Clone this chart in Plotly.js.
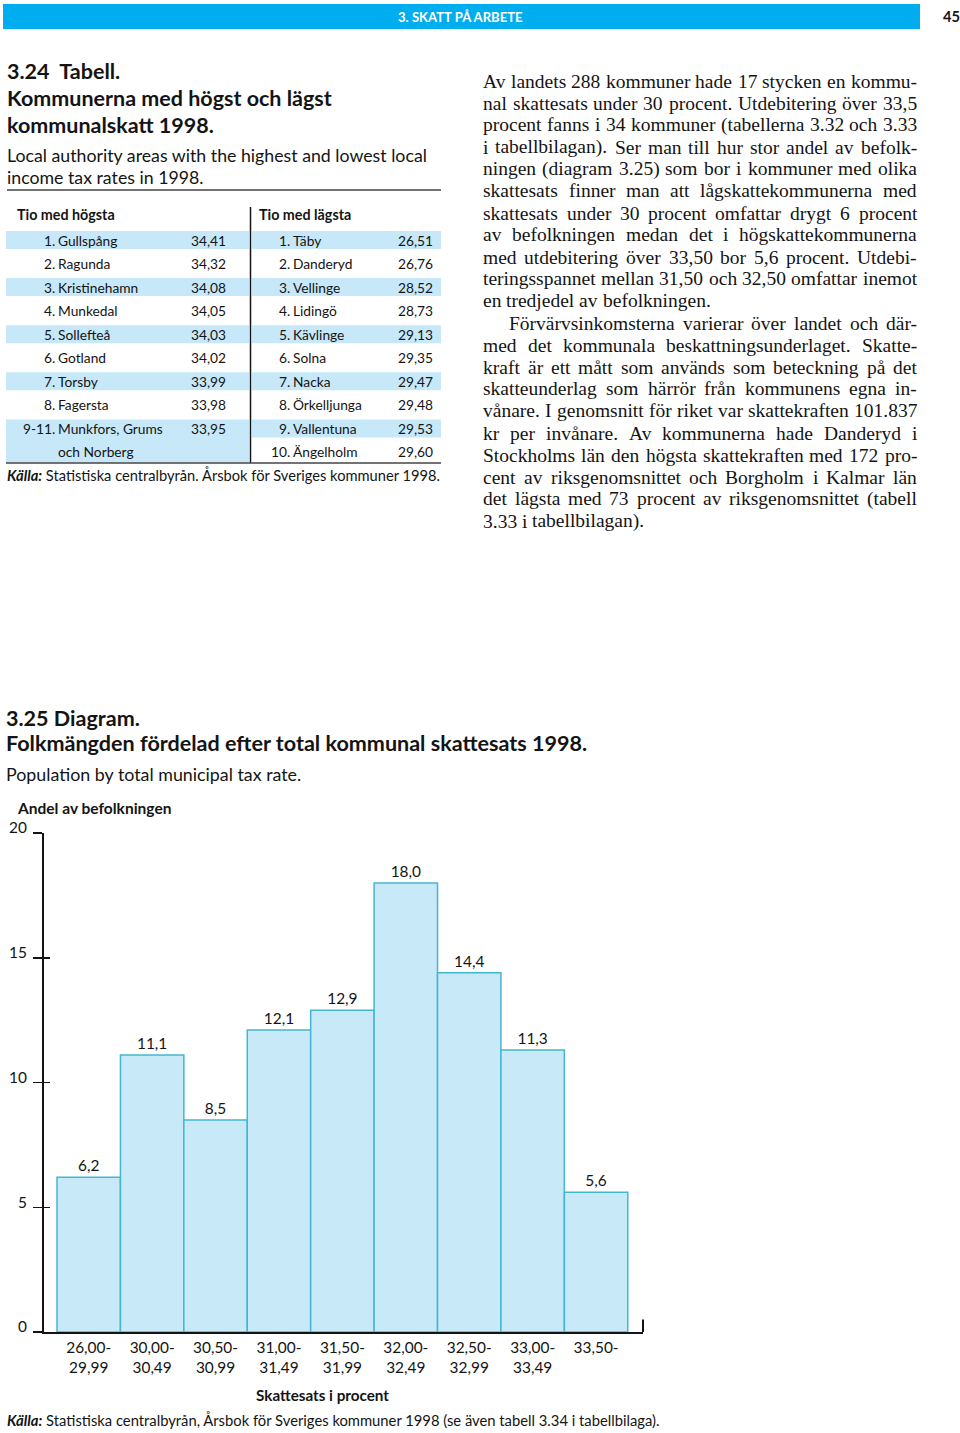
<!DOCTYPE html>
<html><head><meta charset="utf-8">
<script src="https://cdn.plot.ly/plotly-3.0.1.min.js"></script>
<style>html,body{margin:0;padding:0;background:#fff}</style>
</head><body><div id="chart" style="width:960px;height:1433px"></div>
<script>
// ---------- DATA ----------
const taxBrackets = ["26,00-<br>29,99","30,00-<br>30,49","30,50-<br>30,99","31,00-<br>31,49","31,50-<br>31,99","32,00-<br>32,49","32,50-<br>32,99","33,00-<br>33,49","33,50-"];
const populationShare = [6.2, 11.1, 8.5, 12.1, 12.9, 18.0, 14.4, 11.3, 5.6];
const yTicks = [0, 5, 10, 15, 20];

const highRanks = ["1.","2.","3.","4.","5.","6.","7.","8.","9-11.",""];
const highNames = ["Gullspång","Ragunda","Kristinehamn","Munkedal","Sollefteå","Gotland","Torsby","Fagersta","Munkfors, Grums","och Norberg"];
const highRates = [34.41, 34.32, 34.08, 34.05, 34.03, 34.02, 33.99, 33.98, 33.95, null];
const lowRanks = ["1.","2.","3.","4.","5.","6.","7.","8.","9.","10."];
const lowNames = ["Täby","Danderyd","Vellinge","Lidingö","Kävlinge","Solna","Nacka","Örkelljunga","Vallentuna","Ängelholm"];
const lowRates = [26.51, 26.76, 28.52, 28.73, 29.13, 29.35, 29.47, 29.48, 29.53, 29.60];

const bodyParagraphs = [
 ["Av landets 288 kommuner hade 17 stycken en kommu-",
  "nal skattesats under 30 procent. Utdebitering över 33,5",
  "procent fanns i 34 kommuner (tabellerna 3.32 och 3.33",
  "i tabellbilagan). Ser man till hur stor andel av befolk-",
  "ningen (diagram 3.25) som bor i kommuner med olika",
  "skattesats finner man att lågskattekommunerna med",
  "skattesats under 30 procent omfattar drygt 6 procent",
  "av befolkningen medan det i högskattekommunerna",
  "med utdebitering över 33,50 bor 5,6 procent. Utdebi-",
  "teringsspannet mellan 31,50 och 32,50 omfattar inemot",
  "en tredjedel av befolkningen."],
 ["Förvärvsinkomsterna varierar över landet och där-",
  "med det kommunala beskattningsunderlaget. Skatte-",
  "kraft är ett mått som används som beteckning på det",
  "skatteunderlag som härrör från kommunens egna in-",
  "vånare. I genomsnitt för riket var skattekraften 101.837",
  "kr per invånare. Av kommunerna hade Danderyd i",
  "Stockholms län den högsta skattekraften med 172 pro-",
  "cent av riksgenomsnittet och Borgholm i Kalmar län",
  "det lägsta med 73 procent av riksgenomsnittet (tabell",
  "3.33 i tabellbilagan)."]
];

// ---------- HELPERS ----------
const W = 960, H = 1433;
const px = x => x / W, py = y => 1 - y / H;
const SANS = 'Lato, "Open Sans", sans-serif';
const SERIF = '"Liberation Serif", "DejaVu Serif", serif';
const INK = '#141414';
const cv = document.createElement('canvas').getContext('2d');
function mw(t, size, fam, weight, style) {
  cv.font = `${style||'normal'} ${weight||400} ${size}px ${fam}`;
  return cv.measureText(t).width;
}
function fit(t, target, fam, weight, style) { return 100 * target / mw(t, 100, fam, weight, style); }
const fmt = v => v.toFixed(2).replace('.', ',');

const annotations = [];
const shapes = [];
function ann(text, x, y, size, o) {
  o = o || {};
  annotations.push({
    text, x: px(x), y: py(y), xref: 'paper', yref: 'paper',
    xanchor: o.xanchor || 'left', yanchor: 'middle', showarrow: false,
    borderpad: 0, borderwidth: 0,
    font: {family: o.family || SANS, size, color: o.color || INK, weight: o.weight || 400, style: o.style || 'normal'}
  });
}
function rect(x0, y0, x1, y1, color) {
  shapes.push({type:'rect', xref:'paper', yref:'paper', x0:px(x0), x1:px(x1), y0:py(y1), y1:py(y0), fillcolor:color, line:{width:0}, layer:'below'});
}
function hline(x0, x1, y, color, w) {
  shapes.push({type:'line', xref:'paper', yref:'paper', x0:px(x0), x1:px(x1), y0:py(y), y1:py(y), line:{color, width:w}});
}
function vline(x, y0, y1, color, w) {
  shapes.push({type:'line', xref:'paper', yref:'paper', x0:px(x), x1:px(x), y0:py(y0), y1:py(y1), line:{color, width:w}});
}

// ---------- HEADER ----------
rect(3, 4, 920, 29, '#00aeef');
const hdr = "3. SKATT PÅ ARBETE";
ann(hdr, 460, 16.5, fit(hdr, 126, SANS, 700), {xanchor:'center', color:'#ffffff', weight:700});
ann("45", 951, 16, fit("45", 17, SANS, 700), {xanchor:'center', weight:700});

// ---------- TABLE TITLE ----------
const boldTitleSize = fit("Kommunerna med högst och lägst", 325, SANS, 700);
ann("3.24  Tabell.", 7, 71, boldTitleSize, {weight:700});
ann("Kommunerna med högst och lägst", 7, 98, boldTitleSize, {weight:700});
ann("kommunalskatt 1998.", 7, 125, boldTitleSize, {weight:700});
const subSize = fit("Local authority areas with the highest and lowest local", 421, SANS, 400);
ann("Local authority areas with the highest and lowest local", 7, 155, subSize);
ann("income tax rates in 1998.", 7, 177, subSize);
hline(7, 441, 190, '#444', 1.5);

// ---------- TABLE ----------
const rowSize = fit("3. Kristinehamn", 95, SANS, 400);
const headSize = fit("Tio med högsta", 97.7, SANS, 700);
ann("Tio med högsta", 17, 215, headSize, {weight:700});
ann("Tio med lägsta", 259, 215, headSize, {weight:700});
const rowY = i => 240 + 23.55 * i;
const BAND = '#c6e8f8';
for (let i = 0; i < 10; i += 2) {
  if (i < 8) rect(6, rowY(i) - 9, 249, rowY(i) + 9, BAND);
  rect(252, rowY(i) - 9, 441, rowY(i) + 9, BAND);
}
rect(6, rowY(8) - 9, 249, 462.5, BAND);
vline(250.5, 207, 463, INK, 1.5);
hline(6, 441, 463, '#444', 1.5);
for (let i = 0; i < 10; i++) {
  if (highRanks[i]) ann(highRanks[i], 55, rowY(i), rowSize, {xanchor:'right'});
  ann(highNames[i], 58, rowY(i), rowSize);
  if (highRates[i] !== null) ann(fmt(highRates[i]), 226, rowY(i), rowSize, {xanchor:'right'});
  ann(lowRanks[i], 290, rowY(i), rowSize, {xanchor:'right'});
  ann(lowNames[i], 293, rowY(i), rowSize);
  ann(fmt(lowRates[i]), 433, rowY(i), rowSize, {xanchor:'right'});
}
const src1 = "Statistiska centralbyrån. Årsbok för Sveriges kommuner 1998.";
const srcSize1 = 100 * 434 / (mw("Källa: ", 100, SANS, 700, 'italic') + mw(src1, 100, SANS, 400));
ann("<b><i>Källa:</i></b> " + src1, 7, 475, srcSize1);

// ---------- BODY TEXT (justified) ----------
const TXT_L = 483, TXT_R = 917, INDENT = 26;
let serifSize = 100;
bodyParagraphs.forEach((para, p) => para.forEach((line, j) => {
  if (j === para.length - 1) return;
  const w = TXT_R - TXT_L - ((p > 0 && j === 0) ? INDENT : 0);
  serifSize = Math.min(serifSize, fit(line, w, SERIF, 400));
}));
serifSize = Math.min(serifSize, 19.5);
let lineIdx = 0;
bodyParagraphs.forEach((para, p) => {
  para.forEach((line, j) => {
    const y = 81 + 22 * lineIdx;
    const startX = TXT_L + ((p > 0 && j === 0) ? INDENT : 0);
    const words = line.split(' ');
    const widths = words.map(w => mw(w, serifSize, SERIF, 400));
    const total = widths.reduce((a, b) => a + b, 0);
    const space = mw(' ', serifSize, SERIF, 400);
    const last = j === para.length - 1;
    const gap = (last || words.length < 2) ? space : (TXT_R - startX - total) / (words.length - 1);
    let x = startX;
    words.forEach((w, k) => { ann(w, x, y, serifSize, {family: SERIF}); x += widths[k] + gap; });
    lineIdx++;
  });
});

// ---------- CHART TITLES ----------
const chartTitleSize = fit("Folkmängden fördelad efter total kommunal skattesats 1998.", 582, SANS, 700);
ann("3.25 Diagram.", 6, 718, chartTitleSize, {weight:700});
ann("Folkmängden fördelad efter total kommunal skattesats 1998.", 6, 743, chartTitleSize, {weight:700});
ann("Population by total municipal tax rate.", 6, 774, fit("Population by total municipal tax rate.", 296, SANS, 400));
ann("Andel av befolkningen", 17, 808, fit("Andel av befolkningen", 154, SANS, 700), {weight:700});
ann("Skattesats i procent", 322.5, 1395, fit("Skattesats i procent", 133, SANS, 700), {xanchor:'center', weight:700});
const src2 = "Statistiska centralbyrån, Årsbok för Sveriges kommuner 1998 (se även tabell 3.34 i tabellbilaga).";
const srcSize2 = 100 * 654 / (mw("Källa: ", 100, SANS, 700, 'italic') + mw(src2, 100, SANS, 400));
ann("<b><i>Källa:</i></b> " + src2, 7, 1420, srcSize2);

// ---------- CHART ----------
const tickSize = fit("26,00-", 45, SANS, 400);
const idx = taxBrackets.map((_, i) => i);
shapes.push({type:'line', xref:'x domain', yref:'y', x0:1, x1:1, y0:0, y1:0.5, line:{color:INK, width:2}});

const data = [
  {type:'bar', x: idx, y: populationShare, width: 1,
   marker:{color:'#c8e9f8', line:{color:'#46b6d0', width:1.5}},
   texttemplate:'%{y:.1f}', textposition:'outside', cliponaxis:false,
   textfont:{family:SANS, size:tickSize, color:INK}, hoverinfo:'skip', showlegend:false},
  {type:'scatter', x:[], y:[], yaxis:'y2', showlegend:false, hoverinfo:'skip'}
];
const layout = {
  width: W, height: H, margin:{l:0, r:0, t:0, b:0}, paper_bgcolor:'#fff', plot_bgcolor:'rgba(0,0,0,0)',
  separators: ',.', showlegend:false, bargap:0,
  font:{family:SANS, color:INK},
  xaxis:{domain:[px(44), px(643)], range:[-0.705, 8.74], showline:true, linecolor:INK, linewidth:2,
    ticks:'', tickvals: idx, ticktext: taxBrackets, tickfont:{family:SANS, size:tickSize, color:INK},
    showgrid:false, zeroline:false, fixedrange:true, automargin:false},
  yaxis:{domain:[py(1332), py(833)], range:[0, 20], showline:true, linecolor:INK, linewidth:2,
    ticks:'outside', ticklen:9, tickwidth:1.5, tickcolor:INK, tickvals: yTicks,
    tickfont:{family:SANS, size:tickSize, color:INK}, ticklabelshift:-5, ticklabelstandoff:3,
    showgrid:false, zeroline:false, fixedrange:true, automargin:false},
  yaxis2:{domain:[py(1332), py(833)], overlaying:'y', anchor:'x', side:'left', range:[0, 20],
    ticks:'inside', ticklen:6, tickwidth:1.5, tickcolor:INK, tickvals: yTicks, showticklabels:false,
    showline:false, showgrid:false, zeroline:false, fixedrange:true},
  annotations, shapes
};
Plotly.newPlot('chart', data, layout, {staticPlot:true, displayModeBar:false});
</script>
</body></html>
